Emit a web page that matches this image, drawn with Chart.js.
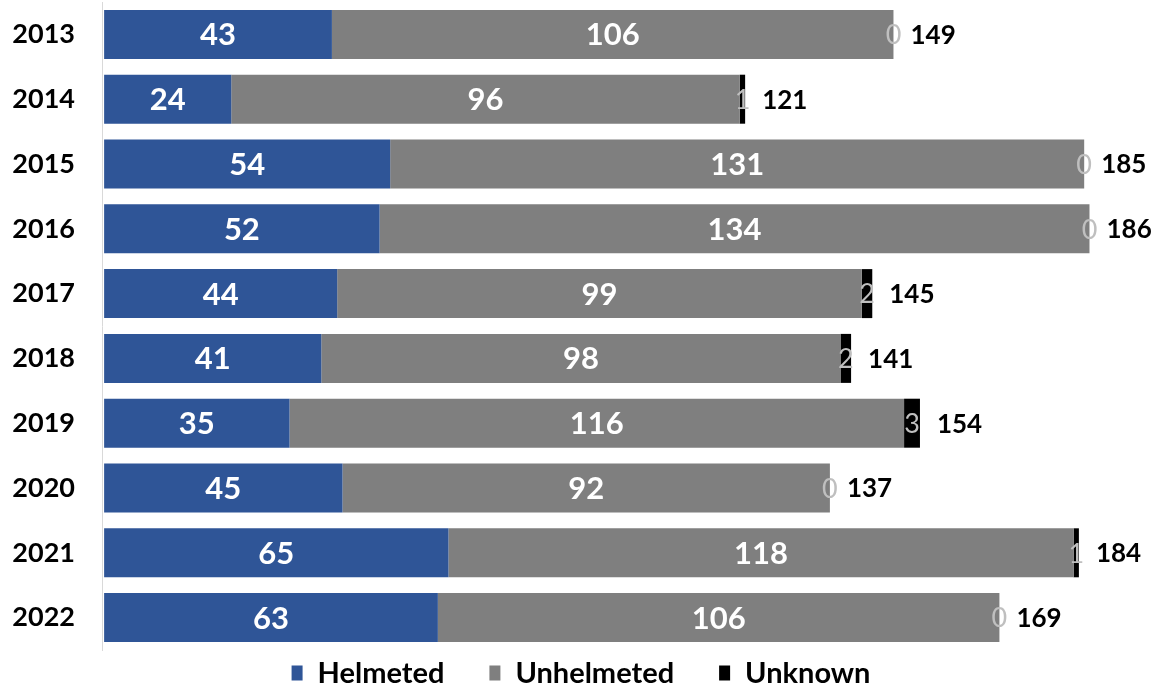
<!DOCTYPE html>
<html><head><meta charset="utf-8">
<script src="https://cdn.jsdelivr.net/npm/chart.js@4/dist/chart.umd.min.js"></script>
<style>html,body{margin:0;padding:0;background:#fff;overflow:hidden}</style>
</head><body>
<canvas id="c" width="1161" height="688" style="display:block;width:1161px;height:688px"></canvas>
<script>
const years = ['2013','2014','2015','2016','2017','2018','2019','2020','2021','2022'];
const helmeted = [43,24,54,52,44,41,35,45,65,63];
const unhelmeted = [106,96,131,134,99,98,116,92,118,106];
const unknown = [0,1,0,0,2,2,3,0,1,0];
const totals = [149,121,185,186,145,141,154,137,184,169];

const FONT = 'Lato, "Open Sans", sans-serif';

const labelPlugin = {
  id: 'labels',
  afterDatasetsDraw(chart) {
    const ctx = chart.ctx;
    ctx.save();
    ctx.textBaseline = 'middle';
    chart.data.datasets.forEach((ds, di) => {
      const meta = chart.getDatasetMeta(di);
      meta.data.forEach((el, i) => {
        const v = ds.data[i];
        const cx = (el.x + el.base) / 2;
        ctx.textAlign = 'center';
        if (di < 2) {
          ctx.font = 'bold 31px ' + FONT;
          ctx.fillStyle = '#FFFFFF';
        } else {
          ctx.font = '27px ' + FONT;
          ctx.fillStyle = '#BFBFBF';
        }
        ctx.fillText(String(v), cx, el.y + 1);
        if (di === 2) {
          ctx.textAlign = 'left';
          ctx.font = 'bold 26px ' + FONT;
          ctx.fillStyle = '#000000';
          ctx.fillText(String(totals[i]), el.x + 17, el.y + 1);
        }
      });
    });
    ctx.restore();
  }
};

const legendPlugin = {
  id: 'bottomLegend',
  afterDraw(chart) {
    const ctx = chart.ctx;
    const items = chart.data.datasets.map(d => ({ text: d.label, color: d.backgroundColor }));
    const boxW = 11, boxH = 15, boxGap = 15, itemGap = 45;
    ctx.save();
    ctx.font = 'bold 29px ' + FONT;
    const widths = items.map(it => ctx.measureText(it.text).width);
    const total = widths.reduce((a, w) => a + boxW + boxGap + w, 0) + itemGap * (items.length - 1);
    let x = 581 - total / 2;
    const yc = 673;
    ctx.textBaseline = 'middle';
    ctx.textAlign = 'left';
    items.forEach((it, k) => {
      ctx.fillStyle = it.color;
      ctx.fillRect(x, yc - boxH / 2, boxW, boxH);
      x += boxW + boxGap;
      ctx.fillStyle = '#000';
      ctx.fillText(it.text, x, yc + 1);
      x += widths[k] + itemGap;
    });
    ctx.restore();
  }
};

new Chart(document.getElementById('c'), {
  type: 'bar',
  data: {
    labels: years,
    datasets: [
      { label: 'Helmeted', data: helmeted, backgroundColor: '#2F5597' },
      { label: 'Unhelmeted', data: unhelmeted, backgroundColor: '#7F7F7F' },
      { label: 'Unknown', data: unknown, backgroundColor: '#000000' }
    ]
  },
  options: {
    indexAxis: 'y',
    responsive: false,
    animation: false,
    devicePixelRatio: 1,
    layout: { padding: { top: 2, left: 0, right: 0, bottom: 38 } },
    datasets: { bar: { barPercentage: 0.756, categoryPercentage: 1, borderWidth: 0 } },
    scales: {
      x: {
        stacked: true, min: -0.4, max: 199.5, display: false
      },
      y: {
        stacked: true,
        grid: { display: false, drawTicks: false },
        border: { display: true, color: '#D9D9D9', width: 1 },
        ticks: { color: '#000', font: { family: FONT, size: 27, weight: 'bold' }, padding: 27 },
        afterFit(s) { s.width = 102; s.paddingTop = 0; s.paddingBottom = 0; }
      }
    },
    plugins: {
      legend: { display: false },
      tooltip: { enabled: false }
    }
  },
  plugins: [labelPlugin, legendPlugin]
});
</script>
</body></html>
